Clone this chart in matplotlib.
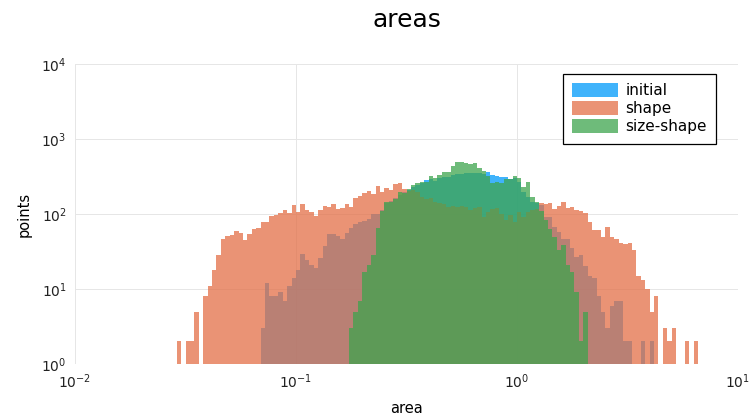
import numpy as np
import matplotlib
matplotlib.use("Agg")
import matplotlib.pyplot as plt
from matplotlib.patches import Patch

# log10 bin edges: 118 bins of width 0.02 decades starting at 10^-1.54
log_start = -1.54
log_step = 0.02

shape = [2, 0, 2, 2, 5, 0, 8, 11, 18, 28,
         47, 51, 52, 59, 56, 45, 54, 63, 66, 78,
         79, 94, 98, 104, 112, 102, 132, 107, 136, 113,
         105, 95, 113, 128, 123, 135, 115, 122, 138, 125,
         162, 172, 189, 205, 185, 239, 197, 222, 209, 251,
         257, 215, 205, 209, 199, 170, 157, 165, 146, 139,
         136, 125, 129, 125, 128, 123, 113, 119, 123, 92,
         107, 115, 119, 100, 83, 97, 79, 107, 92, 107,
         113, 115, 139, 136, 139, 115, 128, 146, 119, 123,
         113, 110, 102, 79, 61, 61, 49, 68, 49, 47,
         41, 40, 41, 33, 15, 13, 10, 5, 8, 0,
         3, 2, 3, 0, 0, 2, 0, 2]

initial = [0] * 19 + [3, 12, 8, 8, 9, 7, 11, 14, 18, 29, 24, 21, 19, 26, 37, 54, 54, 51, 46, 56,
                      66, 74, 79, 81, 85, 99, 100, 113, 140, 150, 165, 180, 195, 210, 230, 245,
                      257, 280, 290, 278, 299, 308, 308, 331, 341, 338, 356, 356, 356, 356, 341,
                      367, 331, 321, 314, 308, 290, 299, 264, 199, 170, 146, 139, 130, 92, 92,
                      68, 58, 47, 47, 35, 27, 28, 20, 15, 14, 8, 5, 3, 6, 7, 7, 2, 2, 0, 0, 2,
                      0, 2] + [0] * 10

size_shape = [0] * 39 + [3, 5, 7, 17, 21, 28, 66, 110, 146, 145, 158, 199, 190, 213, 244, 257,
                         270, 268, 321, 299, 331, 360, 360, 437, 493, 489, 483, 464, 474, 406,
                         378, 321, 262, 264, 262, 290, 290, 324, 299, 227, 270, 170, 146, 110,
                         83, 64, 50, 33, 39, 21, 17, 9, 2, 5] + [0] * 25

series_names = ["initial", "shape", "size-shape"]
series_values = [initial, shape, size_shape]
colors = ["#009AFA", "#E36F47", "#3EA44E"]
alpha = 0.75

nbins = len(shape)
edges = 10 ** (log_start + log_step * np.arange(nbins + 1))

fig = plt.figure(figsize=(7.51, 4.19), dpi=100)
ax = fig.add_axes([75 / 751, 1 - 364 / 419, 663 / 751, 300 / 419])

for name, vals, col in zip(series_names, series_values, colors):
    v = np.array(vals, dtype=float)
    v = v[:nbins]
    ax.bar(edges[:-1], v, width=np.diff(edges), align="edge", color=col,
           alpha=alpha, linewidth=0, label=name)

ax.set_xscale("log")
ax.set_yscale("log")
ax.set_xlim(1e-2, 1e1)
ax.set_ylim(1, 1e4)
ax.set_xticks([1e-2, 1e-1, 1e0, 1e1])
ax.set_yticks([1e0, 1e1, 1e2, 1e3, 1e4])
ax.minorticks_off()
ax.tick_params(length=0, labelsize=10, colors="#222222", pad=6)
for s in ax.spines.values():
    s.set_visible(False)
ax.grid(True, color="#e6e6e6", linewidth=0.7)
ax.set_axisbelow(True)

ax.set_title("areas", fontsize=18, pad=27)
ax.set_xlabel("area", fontsize=10.5, labelpad=7)
ax.set_ylabel("points", fontsize=10.5, labelpad=7)

handles = [Patch(facecolor=c, alpha=alpha, linewidth=0) for c in colors]
leg = ax.legend(handles, series_names, loc="upper right", bbox_to_anchor=(0.967, 0.967),
                borderaxespad=0, fancybox=False, framealpha=1, edgecolor="black",
                fontsize=11, handlelength=3.0, handleheight=1.0, labelspacing=0.2,
                handletextpad=0.5, borderpad=0.6)
leg.get_frame().set_linewidth(0.9)

fig.savefig("out.png", dpi=100)
